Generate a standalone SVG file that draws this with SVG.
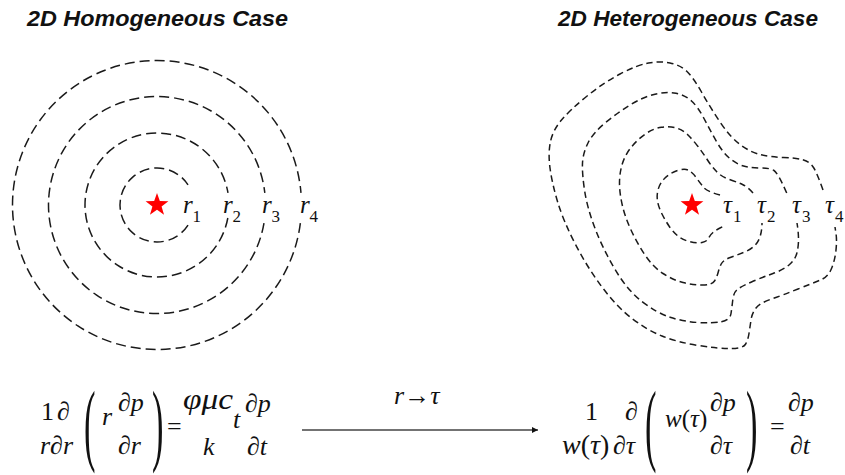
<svg xmlns="http://www.w3.org/2000/svg" width="845" height="475" viewBox="0 0 845 475">
<style>
.title{font-family:"Liberation Sans",Arial,sans-serif;font-weight:bold;font-style:italic;font-size:21.5px;fill:#111}
.circ{fill:none;stroke:#1a1a1a;stroke-width:1.5;stroke-dasharray:10 5}
.cont{fill:none;stroke:#1a1a1a;stroke-width:1.5;stroke-dasharray:6.5 4}
.lab{font-family:"Liberation Serif","Times New Roman",serif;font-style:italic;font-size:25px;fill:#111}
.sub{font-family:"Liberation Serif","Times New Roman",serif;font-size:17px;fill:#111}
.m{font-family:"Liberation Serif","Times New Roman",serif;font-size:26px;fill:#111}
.mi{font-family:"Liberation Serif","Times New Roman",serif;font-style:italic;font-size:26px;fill:#111}
.paren{font-family:"Liberation Serif","Times New Roman",serif;font-size:30px;fill:#111}
.star{fill:#ff0000}
</style>
<defs>
<polygon id="star" class="star" points="0,-12 2.82,-3.88 11.41,-3.71 4.57,1.48 7.05,9.71 0,4.8 -7.05,9.71 -4.57,1.48 -11.41,-3.71 -2.82,-3.88"/>
<marker id="ah" markerWidth="8" markerHeight="8" refX="6" refY="3" orient="auto" markerUnits="userSpaceOnUse">
<path d="M0,0 L6,3 L0,6 Z" fill="#111"/>
</marker>
</defs>

<g id="title-homogeneous"><text class="title" x="27" y="25.5" textLength="261" lengthAdjust="spacingAndGlyphs">2D Homogeneous Case</text></g>
<g id="title-heterogeneous"><text class="title" x="558" y="25.5" textLength="260" lengthAdjust="spacingAndGlyphs">2D Heterogeneous Case</text></g>

<g id="homogeneous">
<path class="circ" d="M188.03,225.15 A37,37 0 1 1 188.03,184.85"/>
<path class="circ" d="M227.82,218 A72,72 0 1 1 227.99,192.99"/>
<path class="circ" d="M263.98,223.09 A108.5,108.5 0 1 1 264.82,192.91"/>
<path class="circ" d="M300.36,223.11 A144.5,144.5 0 1 1 300.99,192.91"/>
<use href="#star" x="157" y="205"/>
<text class="lab" x="183" y="213">r</text><text class="sub" x="192.5" y="222">1</text>
<text class="lab" x="223" y="213">r</text><text class="sub" x="232.5" y="222">2</text>
<text class="lab" x="262" y="213">r</text><text class="sub" x="271.5" y="222">3</text>
<text class="lab" x="300" y="213">r</text><text class="sub" x="309.5" y="222">4</text>
</g>

<g id="heterogeneous">
<path class="cont" d="M720,195 Q707,191.5 703.5,187.25 Q700,183 696.5,178 Q693,173 689,170.5 Q685,168 677.5,170.5 Q670,173 665,178 Q660,183 658.25,189 Q656.5,195 657.5,201 Q658.5,207 661.75,213.5 Q665,220 669,226 Q673,232 678,236 Q683,240 690,241.75 Q697,243.5 702,242.5 Q707,241.5 708.5,238.25 Q710,235 713,232.5 Q716,230 720,228 L724,226"/>
<path class="cont" d="M753,193 Q748,187 742.5,184.5 Q737,182 729.5,179.5 Q722,177 717,172 Q712,167 707.5,160 Q703,153 698,146.5 Q693,140 688,135 Q683,130 676.5,128 Q670,126 661.5,127.25 Q653,128.5 645,134.25 Q637,140 631,147.5 Q625,155 622.25,164 Q619.5,173 619.5,183 Q619.5,193 622.25,205 Q625,217 631,230 Q637,243 645,255 Q653,267 663,273.5 Q673,280 683,282.5 Q693,285 702.5,285 Q712,285 714.5,281 Q717,277 718.25,272 Q719.5,267 721.5,263.5 Q723.5,260 730.25,257.5 Q737,255 743.5,252.5 Q750,250 754.25,246 Q758.5,242 760.25,236 Q762,230 762,223"/>
<path class="cont" d="M786.7,193 Q778,173 774,170.5 Q770,168 761.5,168 Q753,168 745.5,166.5 Q738,165 730.5,159 Q723,153 716.5,141.5 Q710,130 704,118.5 Q698,107 691.5,101 Q685,95 676,93.25 Q667,91.5 655,94.25 Q643,97 630,105 Q617,113 605,123 Q593,133 588,143 Q583,153 582.5,163 Q582,173 584.5,190 Q587,207 594.5,227 Q602,247 614.5,268.5 Q627,290 642,301.5 Q657,313 670,317.25 Q683,321.5 698,322.5 Q713,323.5 721.5,321.75 Q730,320 731,313.5 Q732,307 732.75,300 Q733.5,293 736.75,290 Q740,287 751.5,282 Q763,277 773,273.5 Q783,270 789,265 Q795,260 796.75,253.5 Q798.5,247 798.5,239.5 Q798.5,232 797,223"/>
<path class="cont" d="M823,190 Q817,173 813.5,167.5 Q810,162 803.5,160 Q797,158 783.5,157.5 Q770,157 760,154.5 Q750,152 740,144.5 Q730,137 720,122 Q710,107 701.5,92 Q693,77 686.5,71 Q680,65 670,63 Q660,61 648.5,63 Q637,65 620,74 Q603,83 586.5,96.5 Q570,110 561.5,120 Q553,130 550.5,141.5 Q548,153 550,168 Q552,183 557.5,201.5 Q563,220 575,243.5 Q587,267 602,287 Q617,307 632,318.5 Q647,330 662,336 Q677,342 697,345.25 Q717,348.5 730,348.5 Q743,348.5 745.5,344.25 Q748,340 749,333.5 Q750,327 751,320 Q752,313 756,308 Q760,303 771.5,299 Q783,295 798,289 Q813,283 820.5,280 Q828,277 831.5,268.5 Q835,260 836,250 Q837,240 836,233.5 L835,227"/>
<use href="#star" x="692" y="205"/>
<text class="lab" x="723" y="213">τ</text><text class="sub" x="733" y="222">1</text>
<text class="lab" x="757" y="213">τ</text><text class="sub" x="767" y="222">2</text>
<text class="lab" x="792" y="213">τ</text><text class="sub" x="802" y="222">3</text>
<text class="lab" x="825" y="213">τ</text><text class="sub" x="835" y="222">4</text>
</g>

<g id="eq-left">
<text class="m" x="41" y="420">1</text>
<text class="m" x="57" y="420">∂</text>
<text class="mi" x="40" y="454">r</text><text class="m" x="50" y="454">∂</text><text class="mi" x="63" y="454">r</text>
<text class="paren" transform="translate(84,454) scale(1.15,3)">(</text>
<text class="mi" x="102" y="425">r</text>
<text class="m" x="118" y="411">∂<tspan font-style="italic">p</tspan></text>
<text class="m" x="118" y="454">∂<tspan font-style="italic">r</tspan></text>
<text class="paren" transform="translate(152,454) scale(1.15,3)">)</text>
<text class="m" x="167" y="435">=</text>
<text class="mi" x="183" y="409" style="font-size:30px" textLength="50" lengthAdjust="spacingAndGlyphs">φμc</text>
<text class="mi" x="233" y="428">t</text>
<text class="m" x="245" y="412">∂<tspan font-style="italic">p</tspan></text>
<text class="mi" x="203" y="455">k</text>
<text class="m" x="247" y="455">∂<tspan font-style="italic">t</tspan></text>
</g>

<g id="connectors">
<line x1="302" y1="430" x2="538" y2="430" stroke="#444" stroke-width="1.5" marker-end="url(#ah)"/>
<text class="mi" x="394" y="404">r<tspan font-style="normal">→</tspan>τ</text>
</g>

<g id="eq-right">
<text class="m" x="585" y="420">1</text>
<text class="m" x="625" y="420">∂</text>
<text class="mi" x="562" y="454" style="font-size:28px">w<tspan font-style="normal">(</tspan>τ<tspan font-style="normal">)</tspan></text>
<text class="m" x="613" y="454">∂<tspan font-style="italic">τ</tspan></text>
<text class="paren" transform="translate(645,454) scale(1.15,3)">(</text>
<text class="mi" x="665" y="427" style="font-size:25px">w<tspan font-style="normal">(</tspan>τ<tspan font-style="normal">)</tspan></text>
<text class="m" x="710" y="411">∂<tspan font-style="italic">p</tspan></text>
<text class="m" x="710" y="454">∂<tspan font-style="italic">τ</tspan></text>
<text class="paren" transform="translate(746,454) scale(1.15,3)">)</text>
<text class="m" x="770" y="435">=</text>
<text class="m" x="788" y="411">∂<tspan font-style="italic">p</tspan></text>
<text class="m" x="790" y="454">∂<tspan font-style="italic">t</tspan></text>
</g>
</svg>
